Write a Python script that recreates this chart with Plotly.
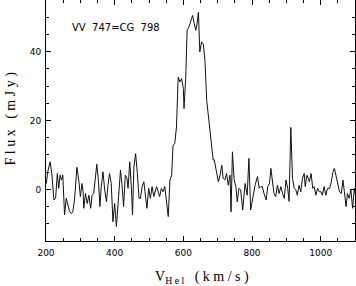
import plotly.graph_objects as go

# Heliocentric velocity (km/s) and flux density (mJy)
velocity = [
    201, 205, 212, 217, 223, 228, 233, 237, 241, 245, 249, 254, 259, 264, 269, 274, 278, 283,
    290, 296, 300, 305, 308, 310, 315, 320, 325, 330, 334, 339, 344, 348, 353, 357, 361, 366,
    371, 376, 380, 385, 390, 395, 400, 405, 410, 417, 421, 426, 431, 436, 439, 444, 449, 452,
    456, 461, 466, 471, 475, 480, 485, 490, 494, 499, 504, 509, 514,
    522, 527, 531, 536, 541, 546, 551, 556, 561, 566, 570, 575, 580, 585, 590, 595, 600, 602,
    607, 611, 616, 622, 627, 632, 636, 640, 644, 648, 653, 658, 663, 668, 673, 677, 682, 687,
    690, 697, 702, 707, 712, 716, 721, 726, 731, 736, 739, 743, 748, 753, 757, 762, 767, 773,
    780, 786, 791, 796, 802, 809, 816, 821, 826, 830, 835, 841, 846, 851, 855, 859, 864, 869,
    874, 879, 884, 889, 894, 899, 904, 908, 913, 918, 923, 928, 932, 937, 942, 947, 952, 955,
    960, 964, 967, 972, 977, 981, 986, 991, 996, 1001, 1005, 1010, 1015, 1020, 1026, 1031,
    1036, 1040, 1045, 1050, 1055, 1060, 1065, 1069, 1074, 1078, 1083, 1088, 1093, 1098, 1102,
]
flux = [
    1.7, 5.1, 8.0, 4.6, -3.1, -2.6, 4.6, 0.3, 4.1, 2.7, 4.1, -7.4, -2.6, -5.0, -6.5, -7.0, -6.5, -3.1,
    6.4, 2.2, -2.1, 1.7, -0.7, -5.5, -1.2, -4.1, -1.7, -5.5, -1.7, -1.2, 2.7, 7.3, 2.2, -5.0, 0.8, 5.1,
    -0.2, -3.6, 0.8, 4.6, 1.7, -9.4, -4.1, -10.8, -4.1, 5.6, 1.7, -5.0, 4.1, 3.2, 0.3, 8.0, -0.2, -7.4,
    6.5, 10.4, 4.6, -2.6, -2.6, 0.8, 2.2, -1.7, -5.5, 0.3, -2.6, 0.8, -2.1,
    0.8, -0.7, -2.1, 0.3, -0.7, 0.8, -3.1, -7.9, 2.7, 4.1, 12.8, 13.3, 18.1, 32.6, 31.2, 32.2, 29.3, 23.5,
    32.6, 46.2, 47.1, 49.1, 50.5, 48.1, 46.2, 48.1, 51.5, 39.9, 42.8, 42.3, 37.5, 25.9, 21.5, 16.2, 12.3, 8.5,
    8.6, 5.1, 2.2, 4.1, 7.0, 3.2, 2.7, 4.6, 1.2, 4.1, -6.5, 10.9, 2.7, 0.8, -3.6, 0.3, -0.2, -6.0,
    1.7, -1.7, 9.0, -6.0, -2.6, 1.2, 3.7, 0.3, 0.8, 0.8, -1.2, -3.1, 0.8, 1.7, 6.1, 2.7, -1.2, -2.1,
    1.2, -1.2, 0.8, -1.2, -2.6, 2.7, 0.3, -3.5, 18.0, 3.2, 0.3, -0.2, -1.7, 1.2, -0.7, 3.2, 4.6, 0.8,
    4.1, 3.2, 2.2, 4.6, 0.3, 0.8, -1.7, 0.3, -0.7, -0.7, -1.7, 0.8, -1.7, 0.3, 0.3, 2.2,
    5.1, 6.1, 3.7, 1.2, -0.7, -1.2, 2.7, -0.7, -5.0, -1.2, -2.6, -0.2, -5.5, 0.3, -2.1,
]

x_ticks = [200, 400, 600, 800, 1000]
y_ticks = [0, 20, 40]
label = "VV\u00a0\u00a0747=CG\u00a0\u00a0798"

W, H = 356, 286
ML, MR, MT, MB = 46, 1, 0, 45
PW, PH = W - ML - MR, H - MT - MB

fig = go.Figure()
fig.add_trace(go.Scatter(x=velocity, y=flux, mode="lines",
                         line=dict(color="#111111", width=1), hoverinfo="skip"))

tickfont = dict(family="DejaVu Sans, sans-serif", size=9, color="black")
axis_common = dict(showgrid=False, zeroline=False, showline=True, linecolor="black",
                   linewidth=1, mirror="allticks", ticks="inside", ticklen=5,
                   tickcolor="black", tickwidth=1, tickfont=tickfont, automargin=False)

fig.update_xaxes(range=[200, 1100], tickvals=x_ticks, ticktext=[str(v) for v in x_ticks],
                 minor=dict(ticks="inside", ticklen=3, dtick=50, tick0=200,
                            tickcolor="black", showgrid=False),
                 ticklabelstandoff=3, **axis_common)
fig.update_yaxes(range=[-15, 55], tickvals=y_ticks, ticktext=[str(v) for v in y_ticks],
                 minor=dict(ticks="inside", ticklen=3, dtick=5, tick0=0,
                            tickcolor="black", showgrid=False),
                 ticklabelstandoff=2, **axis_common)

serif = "Liberation Serif, Times New Roman, serif"
sp = "\u00a0"
ytitle = sp.join(list("Flux")) + sp * 3 + sp.join(list("(mJy)"))
xtitle = "V<sub>" + sp.join(list("Hel")) + "</sub>" + sp * 3 + sp.join(list("(km/s)"))

fig.add_annotation(text=label, x=403, y=47, xref="x", yref="y", showarrow=False,
                   font=dict(family="DejaVu Sans, sans-serif", size=10, color="black"),
                   xanchor="center", yanchor="middle")
fig.add_annotation(text=ytitle, x=(10 - ML) / PW, y=(PH - 118.5) / PH, xref="paper", yref="paper",
                   textangle=-90, showarrow=False, xanchor="center", yanchor="middle",
                   font=dict(family=serif, size=14, color="black"))
fig.add_annotation(text=xtitle, x=(202 - ML) / PW, y=(PH - 277) / PH, xref="paper", yref="paper",
                   showarrow=False, xanchor="center", yanchor="middle",
                   font=dict(family=serif, size=14, color="black"))

fig.update_layout(width=W, height=H, margin=dict(l=ML, r=MR, t=MT, b=MB, pad=0, autoexpand=False),
                  paper_bgcolor="white", plot_bgcolor="white", showlegend=False)

fig.write_html("out.html", config={"displayModeBar": False},
               post_script="document.body.style.margin='0';document.body.style.overflow='hidden';")
